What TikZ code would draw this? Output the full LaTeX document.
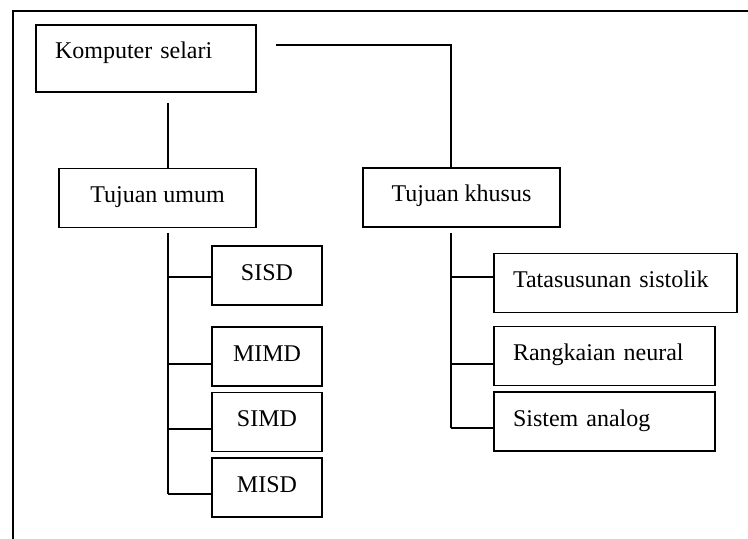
\documentclass[tikz,border=0pt]{standalone}
\usepackage{fontspec}
\setmainfont{Liberation Serif}
\tikzset{
  kotak/.style={draw, line width=0.9pt, inner ysep=0pt, text height=17pt, text depth=12.5pt,
    font=\fontsize{12pt}{14pt}\selectfont},
  kiri/.style={inner xsep=9.5pt, text width=#1, align=left},
  garis/.style={line width=0.9pt}
}
\begin{document}
\begin{tikzpicture}[x=0.5pt, y=-0.5pt]
\useasboundingbox (0,0) rectangle (748,539);
\draw[line width=0.7pt] (13,539) -- (13,11) -- (748,11);
\node[kotak, kiri=91pt, text height=17pt, text depth=16.5pt] (komp) at (146,58.5) {Komputer selari};
\node[kotak, minimum width=98.5pt] (umum) at (157.5,198) {Tujuan umum};
\node[kotak, minimum width=98.5pt] (khusus) at (461.5,197.5) {Tujuan khusus};
\node[kotak, minimum width=55pt] (sisd) at (267,275.5) {SISD};
\node[kotak, minimum width=55pt] (mimd) at (267,356.5) {MIMD};
\node[kotak, minimum width=55pt] (simd) at (267,422) {SIMD};
\node[kotak, minimum width=55pt] (misd) at (267,487.5) {MISD};
\node[kotak, kiri=102.5pt] (tata) at (615.5,283) {Tatasusunan sistolik};
\node[kotak, kiri=91.5pt] (rangk) at (604.5,356) {Rangkaian neural};
\node[kotak, kiri=91.5pt] (sistem) at (604.5,421.5) {Sistem analog};
% connectors
\coordinate (ka) at (276,45);
\coordinate (kb) at (168,103);
\coordinate (ua) at (168,233);
\coordinate (ka2) at (451,233);
\draw[garis] (ka) -| (khusus.north -| 451,0);
\draw[garis] (kb) -- (umum.north -| kb);
\draw[garis] (ua) -- (168,494);
\foreach \b/\y in {sisd/277, mimd/364, simd/429, misd/494}
  \draw[garis] (168,\y) -- (\b.west |- 0,\y);
\draw[garis] (ka2) -- (451,428);
\foreach \b/\y in {tata/277, rangk/364, sistem/428}
  \draw[garis] (451,\y) -- (\b.west |- 0,\y);
\end{tikzpicture}
\end{document}
